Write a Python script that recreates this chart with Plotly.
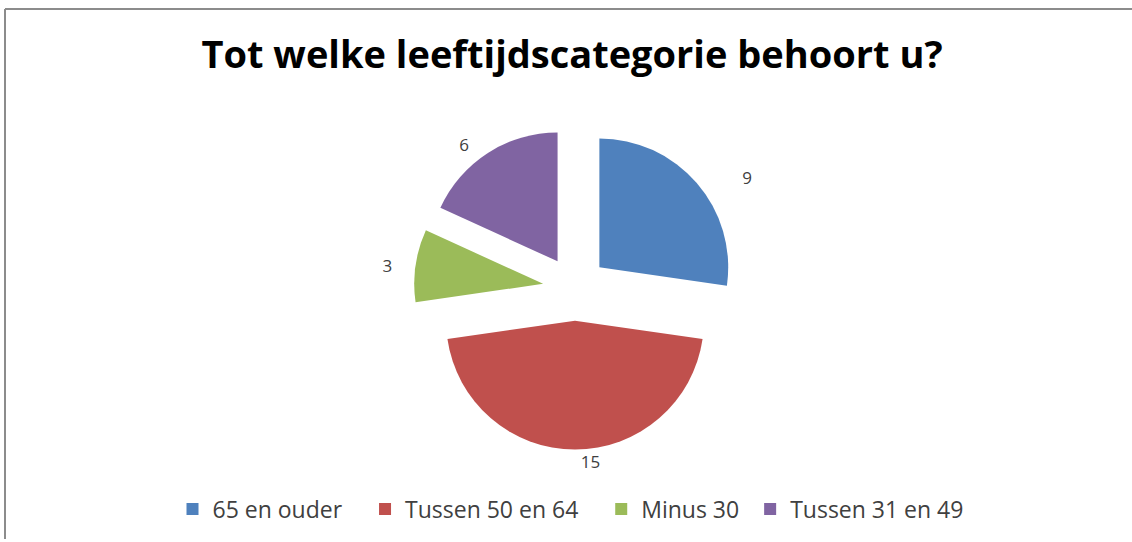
import plotly.graph_objects as go

categories = ["65 en ouder", "Tussen 50 en 64", "Minus 30", "Tussen 31 en 49"]
values = [9, 15, 3, 6]
colors = ["#4F81BD", "#C0504D", "#9BBB59", "#8064A2"]

W, H = 1132, 542
ML, MT = 5, 9
PW, PH = W - ML, H - MT

def px_x(p):
    return (p - ML) / PW

def px_y(p):
    return (H - p) / PH

cx, cy, side = 575, 290, 324

NB = "\u00a0"
label_templates = [NB * 9 + "%{value}", "%{value}", "%{value}" + NB * 4, "%{value}" + NB * 3]
legend_pad = [3, 3, 1, 0]
legend_names = [c + NB * n for c, n in zip(categories, legend_pad)]

fig = go.Figure(go.Pie(
    labels=legend_names,
    values=values,
    marker=dict(colors=colors, line=dict(width=0)),
    sort=False,
    direction="clockwise",
    rotation=0,
    pull=[0.25, 0.25, 0.25, 0.25],
    texttemplate=label_templates,
    textposition="outside",
    outsidetextfont=dict(family="Open Sans, sans-serif", size=17, color="#404040"),
    domain=dict(x=[px_x(cx - side / 2), px_x(cx + side / 2)],
                y=[px_y(cy + side / 2), px_y(cy - side / 2)]),
    hoverinfo="label+value",
))

fig.update_layout(
    width=W, height=H,
    margin=dict(l=ML, t=MT, r=0, b=0),
    paper_bgcolor="white",
    plot_bgcolor="white",
    title=dict(
        text="<b>Tot welke leeftijdscategorie behoort u?</b>",
        font=dict(family="Open Sans, sans-serif", size=38, color="#000000"),
        x=572 / W, xanchor="center", xref="container",
        y=1 - 55 / H, yanchor="middle", yref="container",
    ),
    legend=dict(
        orientation="h",
        x=px_x(570.5), xanchor="center",
        y=px_y(512), yanchor="middle",
        font=dict(family="Open Sans, sans-serif", size=23, color="#404040"),
        itemwidth=30,
        traceorder="normal",
    ),
    shapes=[
        dict(type="line", xref="paper", yref="paper", x0=0, x1=1, y0=1, y1=1,
             line=dict(color="#8C8C8C", width=2)),
        dict(type="line", xref="paper", yref="paper", x0=0, x1=0, y0=0, y1=1,
             line=dict(color="#8C8C8C", width=2)),
    ],
)

fig.write_html("out.html", config={"displayModeBar": False},
               post_script="document.body.style.margin='0';")
